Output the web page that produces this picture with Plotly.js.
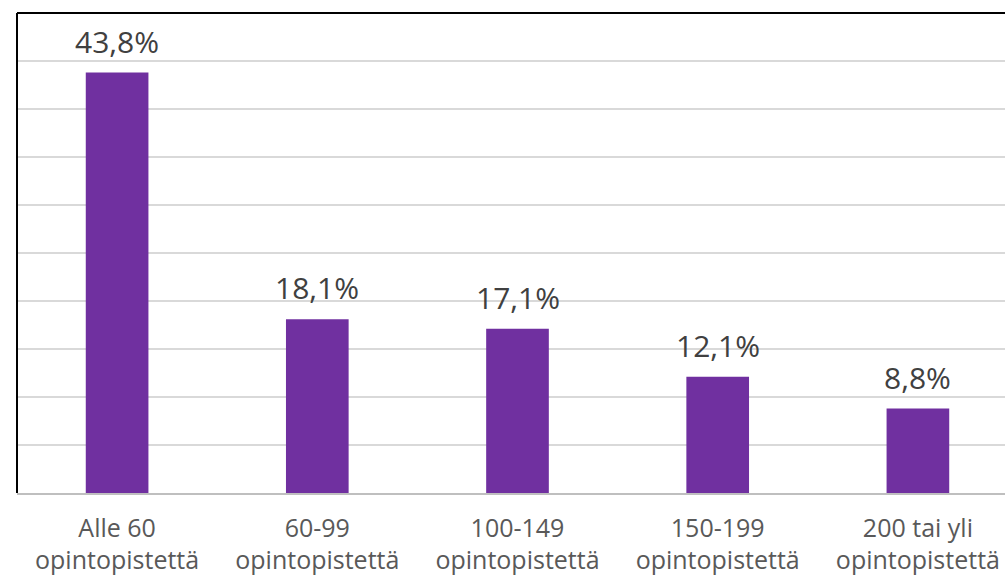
<!DOCTYPE html>
<html>
<head>
<meta charset="utf-8">
<script src="https://cdn.plot.ly/plotly-3.0.1.min.js"></script>
<style>
html,body{margin:0;padding:0;overflow:hidden;background:#fff;}
#chart{width:1025px;height:577px;}
</style>
</head>
<body>
<div id="chart"></div>
<script>
const categories = ["Alle 60<br>opintopistettä", "60-99<br>opintopistettä", "100-149<br>opintopistettä", "150-199<br>opintopistettä", "200 tai yli<br>opintopistettä"];
const values = [43.8, 18.1, 17.1, 12.1, 8.8];
const valueLabels = ["43,8%", "18,1%", "17,1%", "12,1%", "8,8%"];

const FONT = "Open Sans, Liberation Sans, sans-serif";

const trace = {
  type: "bar",
  x: categories,
  y: values,
  marker: {color: "#7030A0"},
  hoverinfo: "none",
  cliponaxis: false
};

const annotations = categories.map((c, i) => ({
  x: c, y: values[i], xref: "x", yref: "y",
  text: valueLabels[i], showarrow: false,
  yanchor: "bottom", yshift: 9,
  font: {family: FONT, size: 30, color: "#404040"}
}));

const layout = {
  width: 1025, height: 577,
  margin: {l: 16.5, r: 6.5, t: 12.5, b: 84},
  paper_bgcolor: "#fff", plot_bgcolor: "#fff",
  bargap: 0.687,
  showlegend: false,
  xaxis: {
    type: "category",
    showline: true, linecolor: "#bfbfbf", linewidth: 1.5,
    showgrid: false, zeroline: false, ticks: "",
    ticklabelstandoff: 12,
    tickfont: {family: FONT, size: 25, color: "#595959"},
    fixedrange: true
  },
  yaxis: {
    range: [0, 50], dtick: 5,
    showgrid: true, gridcolor: "#d9d9d9", gridwidth: 1.5,
    showticklabels: false, zeroline: false, showline: false, ticks: "",
    fixedrange: true
  },
  annotations: annotations,
  shapes: [
    {type: "line", xref: "paper", yref: "paper", x0: 0, x1: 0, y0: 0, y1: 1, line: {color: "#000", width: 2}},
    {type: "line", xref: "paper", yref: "paper", x0: 0, x1: 1.02, y0: 1, y1: 1, line: {color: "#000", width: 2}}
  ]
};

Plotly.newPlot("chart", [trace], layout, {displayModeBar: false, staticPlot: true});
</script>
</body>
</html>
